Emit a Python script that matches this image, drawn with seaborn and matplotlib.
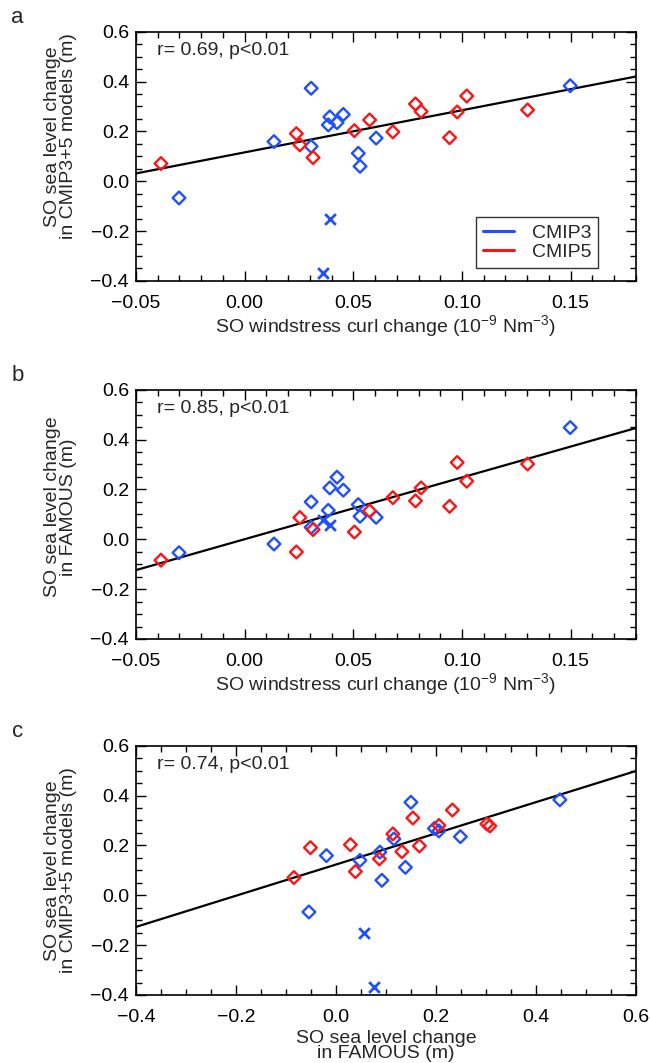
import numpy as np
import matplotlib
matplotlib.use("Agg")
import matplotlib.pyplot as plt
from matplotlib.lines import Line2D
from matplotlib.ticker import MultipleLocator, FuncFormatter
import seaborn as sns

# CMIP5 models (red diamonds)
cmip5_wind = [-0.0385, 0.0238, 0.0254, 0.0315, 0.0505, 0.0575, 0.0682,
              0.0786, 0.0812, 0.0943, 0.0978, 0.1022, 0.1302]
cmip5_sl = [0.071, 0.191, 0.146, 0.095, 0.203, 0.246, 0.198,
            0.310, 0.280, 0.175, 0.278, 0.342, 0.286]
cmip5_famous = [-0.084, -0.051, 0.087, 0.039, 0.029, 0.114, 0.167,
                0.154, 0.206, 0.132, 0.308, 0.233, 0.302]

# CMIP3 models (blue diamonds)
cmip3_wind = [-0.0302, 0.0135, 0.0306, 0.0306, 0.0385, 0.0392, 0.0425,
              0.0454, 0.0523, 0.0531, 0.0605, 0.1498]
cmip3_sl = [-0.067, 0.159, 0.373, 0.140, 0.226, 0.258, 0.235,
            0.268, 0.112, 0.060, 0.173, 0.383]
cmip3_famous = [-0.054, -0.019, 0.150, 0.048, 0.116, 0.206, 0.249,
                0.197, 0.139, 0.092, 0.088, 0.448]

# CMIP3 models left out of the fit (blue crosses)
excl_wind = [0.0395, 0.0362]
excl_sl = [-0.150, -0.368]
excl_famous = [0.056, 0.076]

r_text = ["r= 0.69, p<0.01", "r= 0.85, p<0.01", "r= 0.74, p<0.01"]
panel_names = ["a", "b", "c"]

BLUE = "#1f4fff"
RED = "#ff1414"

sns.set_theme(style="ticks")
plt.rcParams["font.family"] = ["Liberation Sans", "DejaVu Sans"]
plt.rcParams["mathtext.fontset"] = "custom"
plt.rcParams["mathtext.rm"] = "Liberation Sans"
plt.rcParams["mathtext.it"] = "Liberation Sans"
plt.rcParams["font.size"] = 14


def fmt(decimals):
    # IDL-style labels with a real minus sign
    def f(v, pos):
        s = f"{v:.{decimals}f}"
        if float(s) == 0:
            s = s.lstrip("-")
        return s.replace("-", "\u2212")
    return FuncFormatter(f)


fig = plt.figure(figsize=(6.5, 10.63), dpi=100)
left, width, height = 0.2092, 0.769, 0.2345
bottoms = [0.7357, 0.3989, 0.0640]
axes = [fig.add_axes([left, b, width, height]) for b in bottoms]

wind_label = "SO windstress curl change (10$^{-9}$ Nm$^{-3}$)"
sl_label = "SO sea level change\nin CMIP3+5 models (m)"
fam_label = "SO sea level change\nin FAMOUS (m)"

panels = [
    # x data (cmip3, cmip5, excl), y data, xlim, xmajor, xminor, decimals, xlabel, xlabelpad, ylabel, ylabel y pos
    ((cmip3_wind, cmip5_wind, excl_wind), (cmip3_sl, cmip5_sl, excl_sl),
     (-0.05, 0.18), 0.05, 0.01, 2, wind_label, 1, sl_label, 0.58),
    ((cmip3_wind, cmip5_wind, excl_wind), (cmip3_famous, cmip5_famous, excl_famous),
     (-0.05, 0.18), 0.05, 0.01, 2, wind_label, 1, fam_label, 0.53),
    ((cmip3_famous, cmip5_famous, excl_famous), (cmip3_sl, cmip5_sl, excl_sl),
     (-0.4, 0.6), 0.2, 0.05, 1, fam_label, 3, sl_label, 0.5),
]

for i, (ax, p) in enumerate(zip(axes, panels)):
    (x3, x5, xe), (y3, y5, ye), xlim, xmaj, xmin, dec, xlab, xpad, ylab, ypos = p

    sns.scatterplot(x=x3, y=y3, marker="D", s=42, color=BLUE, edgecolor=BLUE,
                    facecolor="none", linewidth=1.7, ax=ax, zorder=3)
    sns.scatterplot(x=x5, y=y5, marker="D", s=42, color=RED, edgecolor=RED,
                    facecolor="none", linewidth=1.7, ax=ax, zorder=3)
    sns.scatterplot(x=xe, y=ye, marker="x", s=60, color=BLUE, linewidth=2.0,
                    ax=ax, zorder=3)

    # regression on the diamonds only
    ax.set_xlim(*xlim)
    ax.set_ylim(-0.4, 0.6)
    sns.regplot(x=np.array(x3 + x5), y=np.array(y3 + y5), scatter=False, ci=None,
                truncate=False, color="black", line_kws={"lw": 1.6}, ax=ax)
    ax.set_xlim(*xlim)
    ax.set_ylim(-0.4, 0.6)

    ax.xaxis.set_major_locator(MultipleLocator(xmaj))
    ax.xaxis.set_minor_locator(MultipleLocator(xmin))
    ax.yaxis.set_major_locator(MultipleLocator(0.2))
    ax.yaxis.set_minor_locator(MultipleLocator(0.05))
    ax.xaxis.set_major_formatter(fmt(dec))
    ax.yaxis.set_major_formatter(fmt(1))

    ax.tick_params(which="both", direction="in", top=True, right=True,
                   colors="black", labelsize=14, width=1.0)
    ax.tick_params(which="major", length=7)
    ax.tick_params(which="minor", length=4)
    ax.tick_params(axis="x", pad=10)
    ax.tick_params(axis="y", pad=5)
    for sp in ax.spines.values():
        sp.set_linewidth(1.2)
        sp.set_color("black")

    ax.set_xlabel(xlab, fontsize=14, linespacing=0.85, labelpad=xpad)
    ax.set_ylabel(ylab, fontsize=14, linespacing=0.95)
    ax.yaxis.set_label_coords(-0.118, ypos)

    ax.text(0.042, 0.925, r_text[i], transform=ax.transAxes, fontsize=14,
            ha="left", va="center")
    fig.text(0.027, ax.get_position().y1 + 0.013, panel_names[i], fontsize=16,
             ha="center", va="center")

handles = [Line2D([], [], color=BLUE, lw=2.2), Line2D([], [], color=RED, lw=2.2)]
leg = axes[0].legend(handles, ["CMIP3", "CMIP5"], loc="lower right",
                     bbox_to_anchor=(0.924, 0.052), borderaxespad=0,
                     fontsize=14, frameon=True, fancybox=False,
                     handlelength=1.6, handletextpad=0.9, labelspacing=0.1,
                     borderpad=0.35)
leg.get_frame().set_edgecolor("black")
leg.get_frame().set_linewidth(1.0)

fig.savefig("out.png", dpi=100)
